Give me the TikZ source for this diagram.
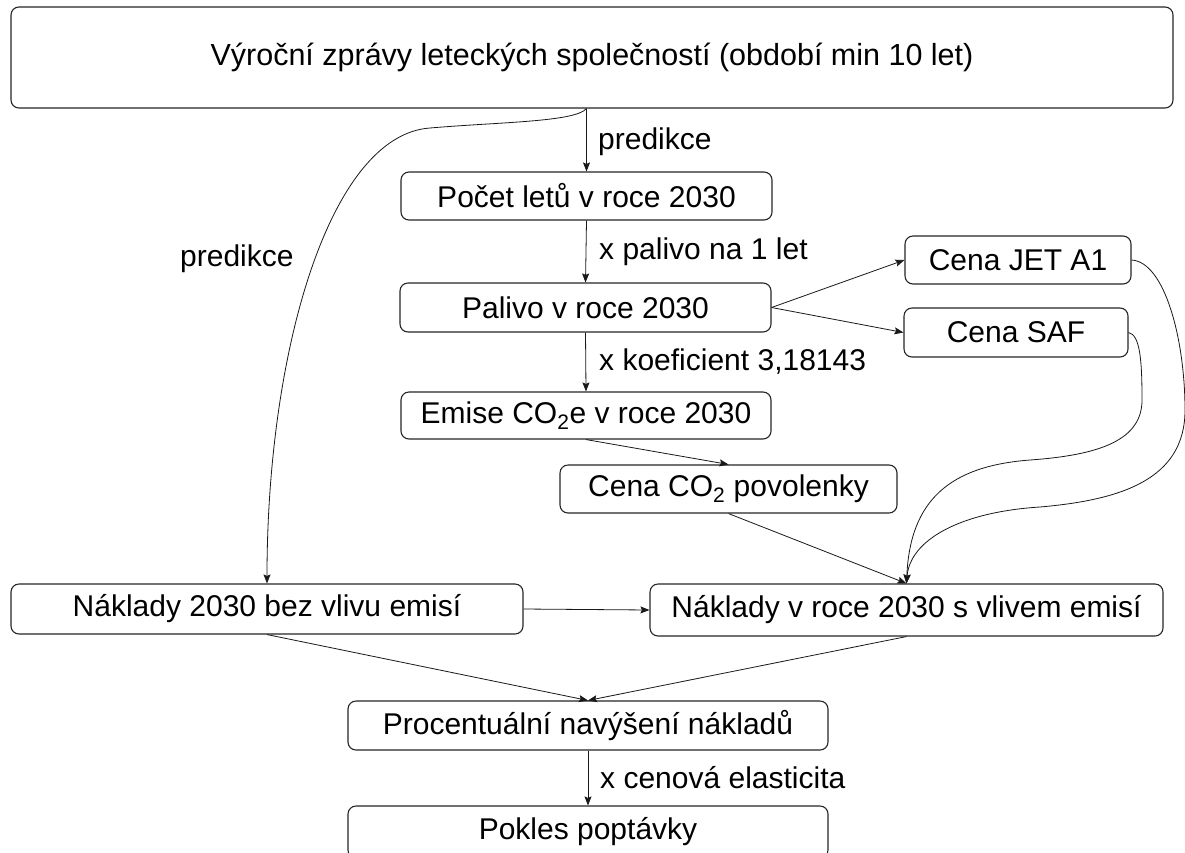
\documentclass[tikz,border=0pt]{standalone}
\usepackage{fontspec}
\setmainfont{Liberation Sans}
\usetikzlibrary{arrows.meta,calc}
\begin{document}
\begin{tikzpicture}[x=1pt,y=-1pt,
  box/.style={draw=black!85,line width=1.1pt,rounded corners=8pt,inner sep=0pt,
    font=\fontsize{30}{35}\selectfont,text=black},
  lbl/.style={anchor=west,inner sep=0pt,font=\fontsize{30}{35}\selectfont,text=black},
  conn/.style={draw=black!90,line width=0.8pt,-{Stealth[length=9pt,width=7pt,inset=1.5pt]}}]
\fill[white] (0,0) rectangle (1185,852);
\useasboundingbox (0,0) rectangle (1185,852);
\node[box,minimum width=1162,minimum height=101,font=\fontsize{30.5}{35}\selectfont] (top) at (592,57.5) {Výroční zprávy leteckých společností (období min 10 let)};
\node[box,minimum width=371,minimum height=48] (pocet) at (586.5,196) {Počet letů v roce 2030};
\node[box,minimum width=371,minimum height=49] (palivo) at (585.5,307.5) {Palivo v roce 2030};
\node[box,minimum width=370,minimum height=47] (emise) at (586,415.5) {Emise CO\textsubscript{2}e v roce 2030};
\node[box,minimum width=226,minimum height=48] (jet) at (1018,260) {Cena JET A1};
\node[box,minimum width=224,minimum height=49] (saf) at (1016,332.5) {Cena SAF};
\node[box,minimum width=337,minimum height=48] (co2) at (728.5,489) {Cena CO\textsubscript{2} povolenky};
\node[box,minimum width=512,minimum height=50] (nbez) at (267,609) {Náklady 2030 bez vlivu emisí};
\node[box,minimum width=513,minimum height=52] (ns) at (906.5,610) {Náklady v roce 2030 s vlivem emisí};
\node[box,minimum width=480,minimum height=49] (proc) at (588,725.5) {Procentuální navýšení nákladů};
\node[box,minimum width=480,minimum height=52] (pokles) at (588,832) {Pokles poptávky};

\coordinate (topout) at (pocet.north |- top.south);
\draw[conn] (topout) -- (pocet.north);
\draw[conn] (pocet.south) -- (palivo.north);
\draw[conn] (palivo.south) -- (emise.north);
\draw[conn] (palivo.east) -- (jet.west);
\draw[conn] (palivo.east) -- (saf.west);
\draw[conn] (emise.south) -- (co2.north);
\draw[conn] (co2.south) -- (ns.north);
\draw[conn] (nbez.east) -- (ns.west);
\draw[conn] (nbez.south) -- (proc.north);
\draw[conn] (ns.south) -- (proc.north);
\draw[conn] (proc.south) -- (pokles.north);
\draw[conn] (topout) .. controls (575,122) and (500,122) .. (430,128)
  .. controls (330,135) and (267,350) .. (nbez.north);
\draw[conn] (jet.east) .. controls (1165,262) and (1185,340) .. (1185,410)
  .. controls (1185,480) and (1120,500) .. (1040,507)
  .. controls (960,512) and (910,540) .. (ns.north);
\draw[conn] (saf.east) .. controls (1140,335) and (1142,360) .. (1142,400)
  .. controls (1142,440) and (1100,455) .. (1030,460)
  .. controls (950,466) and (910,500) .. (ns.north);

\node[lbl] (l1) at (598,142) {predikce};
\node[lbl] (l2) at (599,252) {x palivo na 1 let};
\node[lbl] (l3) at (599,362) {x koeficient 3,18143};
\node[lbl] (l4) at (180,259) {predikce};
\node[lbl] (l5) at (600,778) {x cenová elasticita};
\end{tikzpicture}
\end{document}
